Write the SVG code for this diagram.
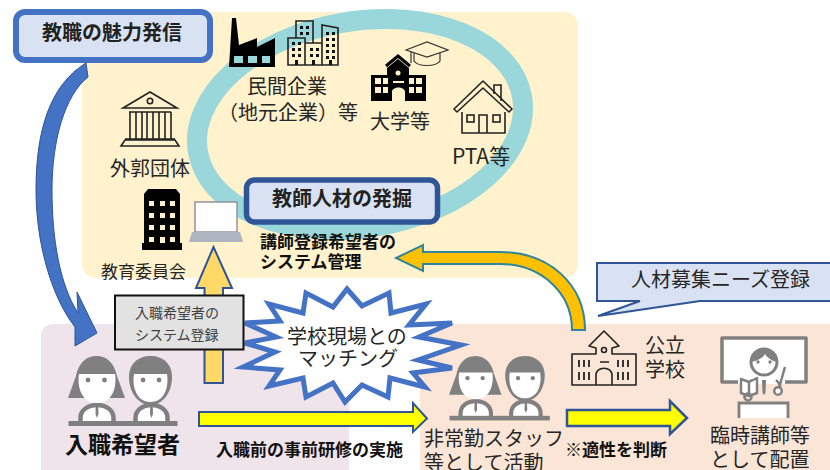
<svg xmlns="http://www.w3.org/2000/svg" width="830" height="470" viewBox="0 0 830 470">
<style>
text{font-family:"Noto Sans CJK JP","Noto Sans",sans-serif;fill:#262626}
.t20{font-size:20px}
.b17{font-size:17px;font-weight:700;fill:#111}
.b20{font-size:20px;font-weight:700;fill:#222}
.t17{font-size:17px}
.t14{font-size:14px;fill:#404040}
.ln{fill:none;stroke:#222;stroke-width:1.6}
.gr{fill:#808080}
.grl{fill:none;stroke:#808080}
</style>
<defs>
<g id="pair">
<path fill="#fff" stroke="#808080" stroke-width="4.500" d="M80.500,423V418C80.500,410 88,405 97,405C106,405 113.500,410 113.500,418V423"/>
<path class="gr" d="M95.800,405H98.200L98.500,414L97,418L95.500,414Z"/>
<path fill="#fff" stroke="#808080" stroke-width="4.500" d="M135.500,423V418C135.500,410 143,405 151.500,405C160,405 167.500,410 167.500,418V423"/>
<path class="gr" d="M150.300,405H152.700L153,414L151.500,418L150,414Z"/>
<path class="gr" d="M96.500,356C84,356 78,366 76,376L68,398H125L117,376C115,366 109,356 96.500,356Z"/>
<path fill="#fff" d="M79,374H115C117,386 113,403 97,403C81,403 77,386 79,374Z"/>
<circle class="gr" cx="88" cy="380" r="2.400"/><circle class="gr" cx="104.500" cy="380" r="2.400"/>
<path class="gr" d="M129,377C129,364 138,356 150.500,356C163,356 172,364 172,377C172,392 163,405 150.500,405C138,405 129,392 129,377Z"/>
<path fill="#fff" d="M134,374H167C169,386 165,402 150.500,402C136,402 132,386 134,374Z"/>
<circle class="gr" cx="143" cy="380" r="2.400"/><circle class="gr" cx="159" cy="380" r="2.400"/>
<rect class="gr" x="68.500" y="421" width="109" height="5"/>
</g>
</defs>
<g id="panels">
<rect x="82" y="12" width="496" height="266" rx="14" fill="#FFF2CC"/>
<rect x="41" y="324" width="308" height="160" rx="12" fill="#EEE4EA"/>
<rect x="420" y="324" width="430" height="160" rx="12" fill="#FBE5D6"/>
<ellipse cx="360" cy="124.500" rx="164.400" ry="103.400" transform="rotate(-9.600 360 124.500)" fill="none" stroke="#9AD7DA" stroke-width="20"/>
</g>
<g id="connectors">
<path d="M86,63L88,77C65,95 52,140 52,190C52,240 60,285 78,313L77,292L97,333L75,346L75,327C50,295 36,240 36,190C36,130 50,85 86,63Z" fill="#4472C4" stroke="#2F5597" stroke-width="1"/>
<path d="M204.500,383V288H196L213.500,247L232,288H223V383Z" fill="#FFD966" stroke="#2F5597" stroke-width="2"/>
<path d="M423,252H500C550,252 585,285 585,330H572C572,292 540,264 500,264H423V271L396,258L423,245Z" fill="#FFC000" stroke="#31859B" stroke-width="2"/>
<path d="M199,412H413V403L427,418.500L413,432V426H199Z" fill="#FFFF00" stroke="#2F5597" stroke-width="2"/>
<path d="M567,410H670V401L687,418L670,434V426H567Z" fill="#FFFF00" stroke="#2F5597" stroke-width="2.500"/>
</g>
<g id="burst">
<polygon points="245,323 280,321 269,304 303,313 306,293 333,307 347,289 362,306 389,293 391,313 426,304 409,325 452,323 419,337 461,345 418,360 452,368 413,373 425,387 390,378 388,397 362,385 345,402 333,383 306,397 303,378 269,386 280,370 243,367 275,352 245,343 276,337" fill="#fff" stroke="#4472C4" stroke-width="5"/>
<text class="t20" x="287" y="344">学校現場との</text>
<text class="t20" x="298" y="366">マッチング</text>
</g>
<g id="box-hatsushin">
<rect x="16" y="12" width="194" height="48" rx="9" fill="#D9E2F3" stroke="#4472C4" stroke-width="6"/>
<text class="b20" x="42" y="40">教職の魅力発信</text>
</g>
<g id="box-hakkutsu">
<rect x="246.500" y="180" width="191" height="42" rx="8" fill="#D9E2F3" stroke="#2F5597" stroke-width="5.500"/>
<text class="b20" x="272" y="206">教師人材の発掘</text>
</g>
<g id="factory">
<path fill="#000" d="M229,67L232,18H236L239,45L257,38V47L275,38V67Z"/>
<path fill="#9AD7DA" d="M234,56H243V63H234ZM248,56H257V63H248ZM262,56H270V63H262Z"/>
</g>
<g id="buildings">
<path class="ln" d="M296,38V21H313V43M322,65V25L338,28V65ZM288,65V38H305V65ZM305,65V43H322V65Z"/>
<path fill="#111" d="M300,26h3v3h-3zM306,26h3v3h-3zM300,32h3v3h-3zM306,32h3v3h-3zM292,42h3v3h-3zM298,42h3v3h-3zM292,48h3v3h-3zM298,48h3v3h-3zM292,54h3v3h-3zM298,54h3v3h-3zM310,48h3v3h-3zM316,48h3v3h-3zM310,54h3v3h-3zM316,54h3v3h-3zM326,32h3v3h-3zM332,32h3v3h-3zM326,38h3v3h-3zM332,38h3v3h-3zM326,44h3v3h-3zM332,44h3v3h-3zM326,50h3v3h-3zM332,50h3v3h-3zM326,56h3v3h-3zM332,56h3v3h-3zM295,60h3v5h-3zM312,60h3v5h-3zM329,60h3v5h-3z"/>
<text class="t20" x="247" y="94">民間企業</text>
<text class="t20" x="218" y="120">（地元企業）等</text>
</g>
<g id="daigaku">
<path fill="#000" d="M371,75H387V68L398,59L409,68V75H426V101H371Z"/>
<path fill="none" stroke="#000" stroke-width="3" d="M386,66L398,56L410,66"/>
<path fill="#FFF2CC" d="M375,78h6v6h-6zM383,78h5v6h-5zM375,87h6v6h-6zM383,87h5v6h-5zM409,78h5v6h-5zM416,78h6v6h-6zM409,87h5v6h-5zM416,87h6v6h-6zM393,81h11v2h-11zM392,101V92C392,86 405,86 405,92V101Z"/>
<circle cx="398" cy="73" r="2.500" fill="#FFF2CC"/>
<path fill="none" stroke="#333" stroke-width="1.200" d="M406,50L427,42L448,50L427,57ZM414,53V61C418,67 436,67 440,61V53M411,52V63"/>
<text class="t20" x="370" y="129">大学等</text>
</g>
<g id="pta">
<path class="ln" stroke-linejoin="round" d="M454,109L483,81L512,109L509,112L483,88L457,112Z"/>
<path class="ln" d="M462,112V133H505V112M494,94V85H501V101M479,133V115H487V133"/>
<rect class="ln" x="467" y="115" width="7" height="7"/><rect class="ln" x="493" y="115" width="7" height="7"/>
<text class="t20" x="452" y="164" style="font-size:21px">PTA等</text>
</g>
<g id="gaikaku">
<path class="ln" stroke-width="2" d="M123,108L150,92L177,108ZM129,112H171M130,112V139M136,112V139M142,112V139M147,112V139M153,112V139M159,112V139M165,112V139M171,112V139M125,139H175M121,146L125,140H175L179,146Z"/>
<circle class="ln" cx="150" cy="101" r="2.700"/>
<text class="t20" x="110" y="176">外郭団体</text>
</g>
<g id="kyoiku">
<path fill="#000" d="M144,194L148,189H176L180,194V243H182V250H142V243H144Z"/>
<path fill="#FFF2CC" d="M149,201h5v5h-5zM160,201h5v5h-5zM170,201h5v5h-5zM149,213h5v5h-5zM160,213h5v5h-5zM170,213h5v5h-5zM149,225h5v5h-5zM160,225h5v5h-5zM170,225h5v5h-5zM149,237h5v5h-5zM160,237h5v6h-5zM170,237h5v5h-5z"/>
<text class="t17" x="101" y="278">教育委員会</text>
</g>
<g id="laptop">
<rect x="195" y="202" width="42" height="30" fill="#fff" stroke="#8E94A0" stroke-width="1.500"/>
<path fill="#AEB4C0" d="M192,232H240L243,242H189Z"/>
</g>
<g id="kanri">
<text class="b17" x="260" y="248">講師登録希望者の</text>
<text class="b17" x="260" y="268">システム管理</text>
</g>
<g id="box-touroku">
<rect x="115" y="295.500" width="128.500" height="54" fill="#E2E2E2" stroke="#111" stroke-width="2"/>
<text class="t14" x="135" y="318">入職希望者の</text>
<text class="t14" x="135" y="340">システム登録</text>
</g>
<g id="applicant">
<use href="#pair"/>
<text x="65" y="453" font-size="23" font-weight="700" style="fill:#111">入職希望者</text>
</g>
<text class="b17" x="216" y="456">入職前の事前研修の実施</text>
<g id="staff">
<use href="#pair" transform="translate(386.500 28.500) scale(.92)"/>
<text class="t20" x="424" y="446">非常勤スタッフ</text>
<text class="t20" x="424" y="470">等として活動</text>
</g>
<text class="b17" x="565" y="456">※適性を判断</text>
<g id="school">
<path class="ln" stroke-width="2" stroke-linejoin="round" d="M572,354H596V348L589,346L604,331L619,346L612,348V354H636V385H572Z"/>
<path class="ln" stroke-width="2" d="M596,385V375C596,366 612,366 612,375V385M600,362H609"/>
<circle class="ln" cx="604" cy="350" r="2.500"/>
<path fill="none" stroke="#222" stroke-width="1.800" d="M579,360v7M584,360v7M589,360v7M579,372v8M584,372v8M589,372v8M618,360v7M623,360v7M628,360v7M618,372v8M623,372v8M628,372v8"/>
<text class="t20" x="645" y="353">公立</text>
<text class="t20" x="645" y="377">学校</text>
</g>
<g id="teacher">
<path fill="#fff" stroke="#808080" stroke-width="3.500" stroke-linejoin="round" d="M738,382H722V338H806V382H785"/>
<path fill="#fff" d="M738,380H785V384H738Z"/>
<circle cx="764" cy="362" r="13" fill="#fff" stroke="#808080" stroke-width="3"/>
<path class="gr" d="M751,362C751,344 777,344 777,362C771,361 767,357 765,354C763,358 757,361 751,362Z"/>
<circle class="gr" cx="758" cy="362" r="1.700"/><circle class="gr" cx="770" cy="362" r="1.700"/>
<path class="grl" stroke-width="2.500" d="M752,380C746,383 744,392 745,398M776,380C780,383 782,388 778,392"/>
<path class="gr" d="M762,380H766L765.500,393L764,395L762.500,393Z"/>
<path fill="#fff" stroke="#808080" stroke-width="2.500" stroke-linejoin="round" d="M741,379L749,382L757,378V393L749,396L741,393Z"/>
<path class="grl" stroke-width="2.500" d="M749,382V396"/>
<circle cx="748" cy="397" r="3.500" fill="none" stroke="#808080" stroke-width="2.500"/>
<circle cx="778" cy="391" r="3.800" fill="#fff" stroke="#808080" stroke-width="2.500"/>
<path class="grl" stroke-width="2.500" d="M785,367L779,388"/>
<path fill="#fff" stroke="#808080" stroke-width="2.800" d="M739,418V403H788V418"/>
<text class="t20" x="710" y="443">臨時講師等</text>
<text class="t20" x="710" y="467">として配置</text>
</g>
<g id="callout">
<path d="M597,263H840V301H700L598,316L640,301H597Z" fill="#D9E2F3" stroke="#2F5597" stroke-width="2"/>
<text class="t20" x="631" y="287">人材募集ニーズ登録</text>
</g>
</svg>
